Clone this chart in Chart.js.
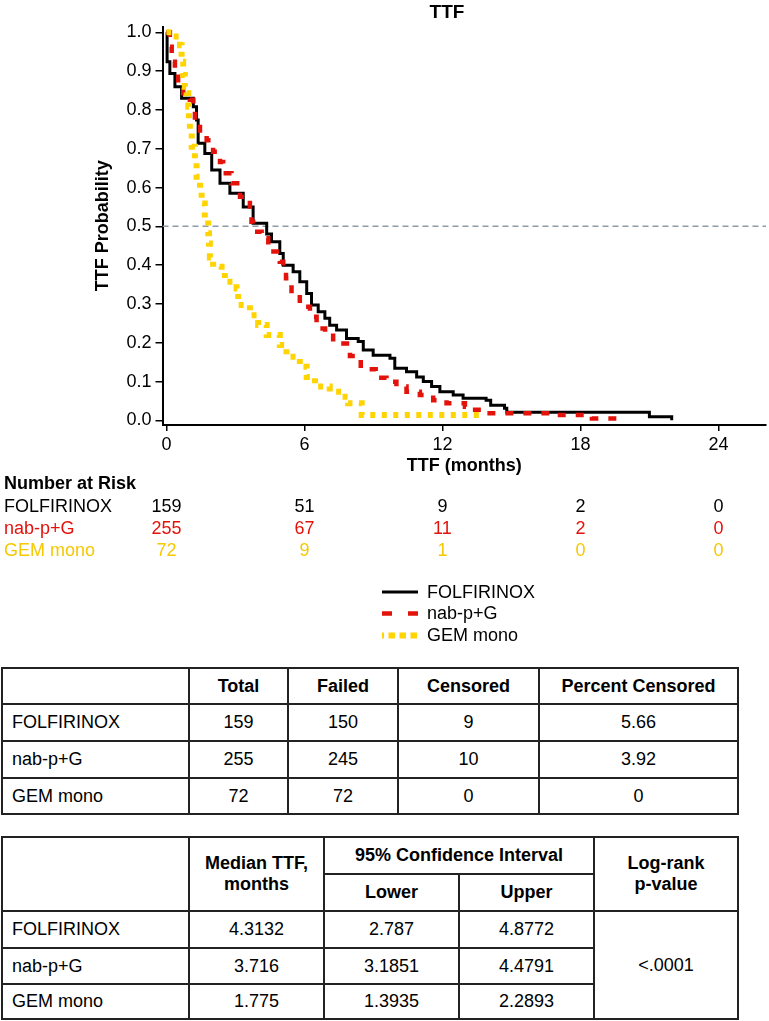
<!DOCTYPE html>
<html>
<head>
<meta charset="utf-8">
<script src="https://cdn.jsdelivr.net/npm/chart.js@4.4.1/dist/chart.umd.min.js"></script>
<style>
body { margin: 0; background: #fff; font-family: 'Liberation Sans', Arial, sans-serif; }
#wrap { position: relative; width: 769px; height: 1021px; }
#c { position: absolute; left: 0; top: 0; }
table { position: absolute; border-collapse: collapse; table-layout: fixed; font-size: 18px; color: #000; }
td { border: 2px solid #222; text-align: center; padding: 0; }
td.n { text-align: left; padding-left: 9px; }
td.h { font-weight: bold; }
</style>
</head>
<body>
<div id="wrap">
<canvas id="c" width="769" height="660"></canvas>
<table id="t1" style="left:1px; top:667px; width:736px;"></table>
<table id="t2" style="left:1px; top:836px; width:736px;"></table>
</div>
<script>
// groups
const groups = ['FOLFIRINOX', 'nab-p+G', 'GEM mono'];

// Kaplan-Meier steps (time in months, probability)
const folfTime = [0, 0.03, 0.15, 0.37, 0.66, 1.17, 1.31, 1.38, 1.67, 1.97, 2.33, 2.76, 3.34, 3.77, 4.36, 4.57, 4.93, 5.08, 5.51, 5.8, 6.1, 6.31, 6.6, 6.89, 7.1, 7.4, 7.83, 8.34, 8.56, 8.99, 9.72, 9.93, 10.44, 10.88, 11.17, 11.53, 11.89, 12.47, 12.9, 13.9, 14.1, 14.7, 14.8, 21.0, 21.97];
const folfSurv = [1.0, 0.924, 0.894, 0.86, 0.83, 0.808, 0.774, 0.714, 0.688, 0.645, 0.611, 0.585, 0.55, 0.508, 0.48, 0.46, 0.43, 0.40, 0.383, 0.357, 0.327, 0.297, 0.28, 0.263, 0.245, 0.233, 0.211, 0.203, 0.181, 0.168, 0.16, 0.134, 0.125, 0.112, 0.1, 0.087, 0.074, 0.065, 0.057, 0.052, 0.039, 0.031, 0.021, 0.009, 0.0];

const nabTime = [0, 0.15, 0.23, 0.37, 0.51, 0.73, 1.02, 1.17, 1.24, 1.46, 1.75, 2.03, 2.33, 2.47, 2.83, 3.2, 3.63, 3.7, 3.77, 4.14, 4.43, 4.93, 5.08, 5.2, 5.44, 5.8, 6.24, 6.53, 6.9, 7.25, 7.98, 8.45, 9.1, 9.57, 10.0, 10.44, 11.02, 11.6, 12.18, 12.98, 13.05, 13.77, 16.75, 18.5, 19.6];
const nabSurv = [1.0, 0.963, 0.924, 0.903, 0.868, 0.843, 0.826, 0.80, 0.765, 0.74, 0.722, 0.692, 0.666, 0.637, 0.611, 0.576, 0.534, 0.512, 0.486, 0.469, 0.435, 0.409, 0.383, 0.366, 0.327, 0.293, 0.267, 0.237, 0.224, 0.198, 0.166, 0.132, 0.11, 0.0995, 0.087, 0.074, 0.065, 0.052, 0.044, 0.035, 0.027, 0.018, 0.0137, 0.005, 0.005];

const gemTime = [0, 0.3, 0.59, 0.66, 0.73, 0.8, 0.88, 0.95, 0.98, 1.02, 1.1, 1.24, 1.31, 1.46, 1.53, 1.67, 1.82, 1.85, 1.89, 2.03, 2.4, 2.54, 3.05, 3.12, 3.63, 3.99, 4.36, 4.93, 5.22, 5.8, 6.1, 6.46, 7.1, 7.62, 7.9, 8.49, 13.77];
const gemSurv = [1.0, 0.989, 0.967, 0.924, 0.89, 0.86, 0.843, 0.808, 0.774, 0.74, 0.705, 0.675, 0.628, 0.594, 0.559, 0.516, 0.482, 0.456, 0.42, 0.396, 0.383, 0.357, 0.34, 0.297, 0.271, 0.246, 0.22, 0.194, 0.164, 0.138, 0.112, 0.087, 0.074, 0.061, 0.044, 0.0139, 0.0139];

// axes
const xTicks = [0, 6, 12, 18, 24];
const yTicks = [0, 0.1, 0.2, 0.3, 0.4, 0.5, 0.6, 0.7, 0.8, 0.9, 1.0];
const medianLine = 0.5;

// number at risk
const riskTimes = [0, 6, 12, 18, 24];
const riskFolf = [159, 51, 9, 2, 0];
const riskNab = [255, 67, 11, 2, 0];
const riskGem = [72, 9, 1, 0, 0];

// summary tables
const totals = [159, 255, 72];
const failed = [150, 245, 72];
const censored = [9, 10, 0];
const pctCensored = ['5.66', '3.92', '0'];
const medianTTF = ['4.3132', '3.716', '1.775'];
const ciLower = ['2.787', '3.1851', '1.3935'];
const ciUpper = ['4.8772', '4.4791', '2.2893'];
const logRankP = '<.0001';

const FONT = "'Liberation Sans', Arial, sans-serif";
const BLACK = '#000000';
const RED = '#e3120b';
const GOLD = '#ffd400';
const GOLD_TXT = '#f5c800';

Chart.defaults.font.family = FONT;
Chart.defaults.color = '#000';

const pts = (ts, ss) => ts.map((t, i) => ({x: t, y: ss[i]}));
const X_MIN = -0.17, X_MAX = 26.07;

const extras = {
    id: 'extras',
    afterDraw(chart) {
        const ctx = chart.ctx;
        const xs = chart.scales.x;
        ctx.save();
        ctx.fillStyle = '#000';
        ctx.textBaseline = 'middle';
        ctx.textAlign = 'center';
        ctx.font = 'bold 19px ' + FONT;
        ctx.fillText('TTF', 447, 13);

        // number at risk
        ctx.textAlign = 'left';
        ctx.font = 'bold 18px ' + FONT;
        ctx.fillText('Number at Risk', 4, 484);
        const rows = [riskFolf, riskNab, riskGem];
        const cols = [BLACK, RED, GOLD_TXT];
        const ys = [507, 529, 551];
        ctx.font = '18px ' + FONT;
        rows.forEach((r, i) => {
            ctx.fillStyle = cols[i];
            ctx.textAlign = 'left';
            ctx.fillText(groups[i], 4, ys[i]);
            ctx.textAlign = 'center';
            r.forEach((n, j) => ctx.fillText(String(n), xs.getPixelForValue(riskTimes[j]), ys[i]));
        });

        // legend
        const ly = [592, 613.5, 635.5];
        const dashes = [[], [10, 16], [6.5, 4.5]];
        const offs = [0, 0, 4.5];
        chart.data.datasets.slice(0, 3).forEach((ds, i) => {
            ctx.beginPath();
            ctx.setLineDash(dashes[i]);
            ctx.lineDashOffset = offs[i];
            ctx.lineWidth = ds.borderWidth;
            ctx.strokeStyle = ds.borderColor;
            ctx.moveTo(382, ly[i]);
            ctx.lineTo(418, ly[i]);
            ctx.stroke();
            ctx.setLineDash([]);
            ctx.fillStyle = '#000';
            ctx.textAlign = 'left';
            ctx.font = '18px ' + FONT;
            ctx.fillText(groups[i], 427, ly[i] + 1);
        });
        ctx.restore();
    }
};

new Chart(document.getElementById('c').getContext('2d'), {
    type: 'line',
    data: {
        datasets: [
            {label: groups[0], data: pts(folfTime, folfSurv), borderColor: BLACK, borderWidth: 3, stepped: true, pointRadius: 0, order: 2},
            {label: groups[1], data: pts(nabTime, nabSurv), borderColor: RED, borderWidth: 4.5, borderDash: [8, 10], stepped: true, pointRadius: 0, order: 1},
            {label: groups[2], data: pts(gemTime, gemSurv), borderColor: GOLD, borderWidth: 6, borderDash: [5, 6.5], stepped: true, pointRadius: 0, order: 0},
            {label: 'median', data: [{x: X_MIN, y: medianLine}, {x: X_MAX, y: medianLine}], borderColor: '#8d9ca6', borderWidth: 1.5, borderDash: [6, 4], pointRadius: 0, order: 3}
        ]
    },
    options: {
        responsive: false,
        animation: false,
        layout: {padding: {left: 92, top: 26.7, right: 3, bottom: 175}},
        plugins: {legend: {display: false}, tooltip: {enabled: false}, title: {display: false}},
        scales: {
            x: {
                type: 'linear', min: X_MIN, max: X_MAX,
                afterBuildTicks: s => { s.ticks = xTicks.map(v => ({value: v})); },
                afterFit: s => { s.height = 60; },
                grid: {drawOnChartArea: false, drawTicks: true, tickLength: 6, color: '#000', lineWidth: 1.5},
                border: {display: true, color: '#000', width: 2},
                ticks: {font: {size: 18}, color: '#000', padding: 3, autoSkip: false, maxRotation: 0},
                title: {display: true, text: 'TTF (months)', font: {size: 18, weight: 'bold'}, color: '#000', padding: {top: 4, bottom: 8}}
            },
            y: {
                type: 'linear', min: -0.012, max: 1.0145,
                afterBuildTicks: s => { s.ticks = yTicks.map(v => ({value: v})); },
                afterFit: s => { s.width = 70.5; },
                grid: {drawOnChartArea: false, drawTicks: true, tickLength: 7, color: '#000', lineWidth: 1.5},
                border: {display: true, color: '#000', width: 2},
                ticks: {font: {size: 18}, color: '#000', padding: 4, callback: v => v.toFixed(1)},
                title: {display: true, text: 'TTF Probability', font: {size: 18, weight: 'bold'}, color: '#000', padding: {top: 0, bottom: 0}}
            }
        }
    },
    plugins: [extras]
});

// tables
const t1 = document.getElementById('t1');
let h1 = '<colgroup><col style="width:187px"><col style="width:99px"><col style="width:110px"><col style="width:141px"><col style="width:199px"></colgroup>';
h1 += '<tr style="height:36px"><td></td><td class="h">Total</td><td class="h">Failed</td><td class="h">Censored</td><td class="h">Percent Censored</td></tr>';
groups.forEach((g, i) => {
    h1 += '<tr style="height:' + (i === 2 ? 36 : 37) + 'px"><td class="n">' + g + '</td><td>' + totals[i] + '</td><td>' + failed[i] + '</td><td>' + censored[i] + '</td><td>' + pctCensored[i] + '</td></tr>';
});
t1.innerHTML = h1;

const t2 = document.getElementById('t2');
let h2 = '<colgroup><col style="width:187px"><col style="width:135px"><col style="width:135px"><col style="width:135px"><col style="width:144px"></colgroup>';
h2 += '<tr style="height:37px"><td rowspan="2"></td><td class="h" rowspan="2">Median TTF,<br>months</td><td class="h" colspan="2">95% Confidence Interval</td><td class="h" rowspan="2">Log-rank<br>p-value</td></tr>';
h2 += '<tr style="height:37px"><td class="h">Lower</td><td class="h">Upper</td></tr>';
groups.forEach((g, i) => {
    h2 += '<tr style="height:' + [37, 36, 35][i] + 'px"><td class="n">' + g + '</td><td>' + medianTTF[i] + '</td><td>' + ciLower[i] + '</td><td>' + ciUpper[i] + '</td>' + (i === 0 ? '<td rowspan="3">' + logRankP + '</td>' : '') + '</tr>';
});
t2.innerHTML = h2;
</script>
</body>
</html>
